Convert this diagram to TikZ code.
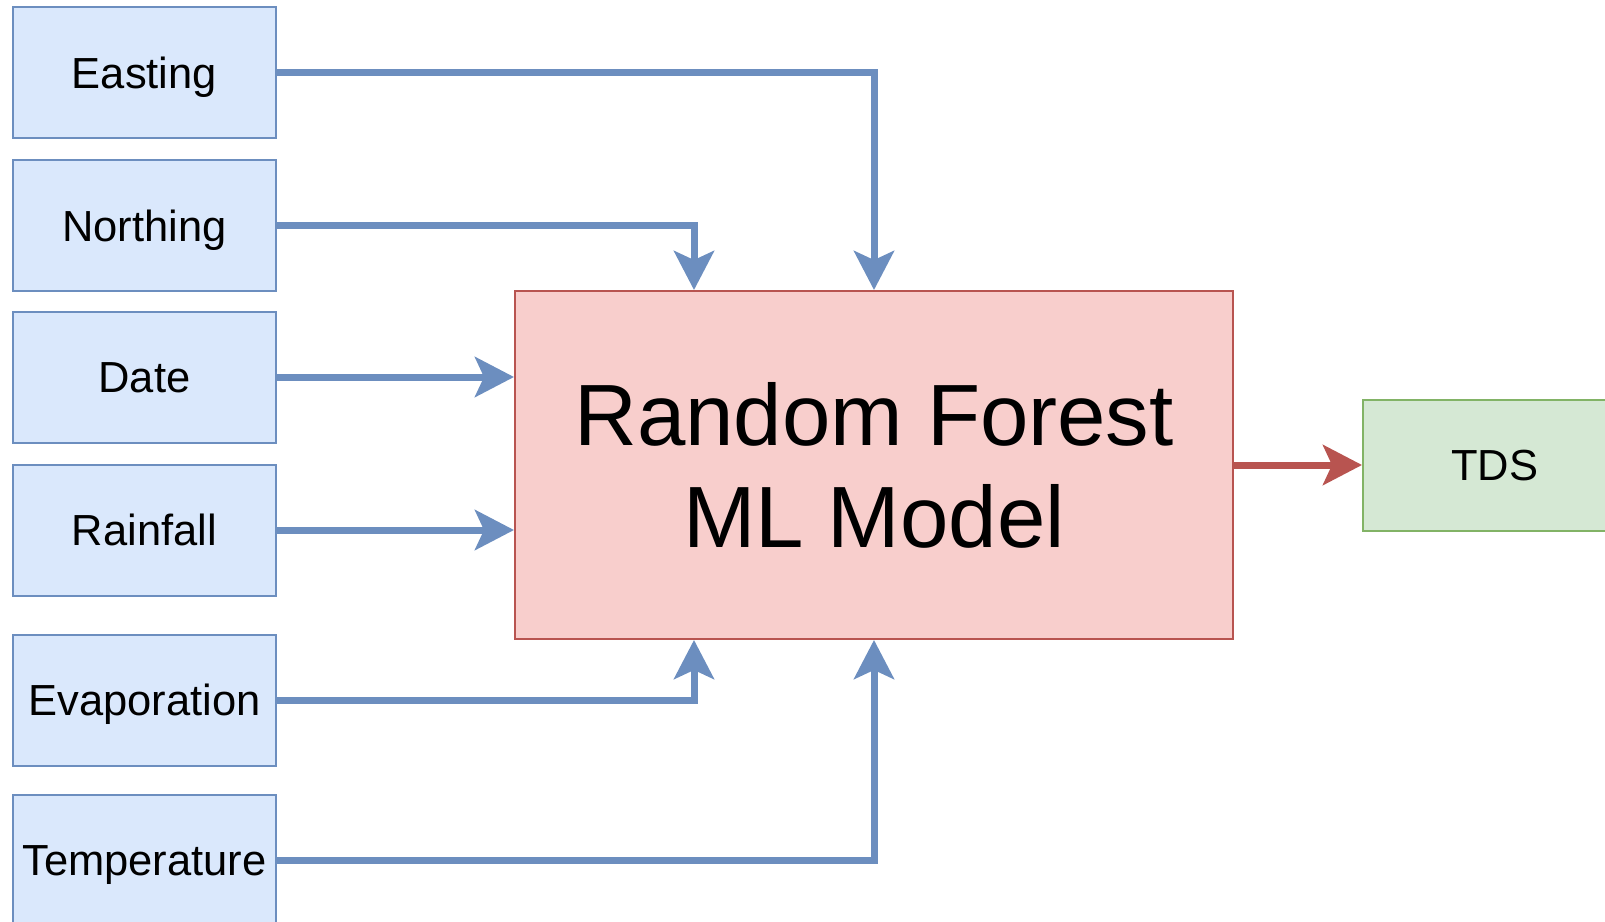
\documentclass[tikz,border=0pt]{standalone}
\usepackage{fontspec}
\setmainfont{Liberation Sans}
\usetikzlibrary{arrows.meta,calc}

\definecolor{inFill}{HTML}{DAE8FC}
\definecolor{inLine}{HTML}{6C8EBF}
\definecolor{rfFill}{HTML}{F8CECC}
\definecolor{rfLine}{HTML}{B85450}
\definecolor{outFill}{HTML}{D5E8D4}
\definecolor{outLine}{HTML}{82B366}

\tikzset{
  box/.style={line width=2pt, minimum width=263pt, minimum height=131pt,
    inner sep=0pt, text height=31pt, text depth=0pt,
    font=\fontsize{43.5}{52}\selectfont},
  feature/.style={box, draw=inLine, fill=inFill},
  target/.style={box, draw=outLine, fill=outFill},
  model/.style={draw=rfLine, fill=rfFill, line width=2pt, minimum width=718pt,
    minimum height=348pt, inner sep=0pt, align=center,
    font=\fontsize{87}{102}\selectfont},
  tip/.style={-{Stealth[length=39pt,width=40pt,inset=9pt]}},
  feed/.style={draw=inLine, line width=7pt, tip},
  result/.style={draw=rfLine, line width=7pt, tip}
}

\begin{document}
\begin{tikzpicture}[x=1pt,y=-1pt]
\useasboundingbox (0,0) rectangle (1605,921);
\clip (0,0) rectangle (1605,921);

% input features
\node[feature] (east) at (144.5,72.5) {Easting};
\node[feature] (north) at (144.5,225.5) {Northing};
\node[feature] (date) at (144.5,377) {Date};
\node[feature] (rain) at (144.5,530) {Rainfall};
\node[feature] (evap) at (144.5,700) {Evaporation};
\node[feature] (temp) at (144.5,860) {Temperature};

% model and prediction
\node[model] (rf) at (874,465) {Random Forest\\ML Model};
\node[target] (tds) at (1494.5,465) {TDS};

% connectors
\draw[feed] (east.east) -| (rf.north);
\draw[feed] (north.east) -| ($(rf.north west)!0.25!(rf.north east)$);
\draw[feed] (date.east) -- (date.east -| rf.west);
\draw[feed] (rain.east) -- (rain.east -| rf.west);
\draw[feed] (evap.east) -| ($(rf.south west)!0.25!(rf.south east)$);
\draw[feed] (temp.east) -| (rf.south);
\draw[result] (rf.east) -- (tds.west);
\end{tikzpicture}
\end{document}
